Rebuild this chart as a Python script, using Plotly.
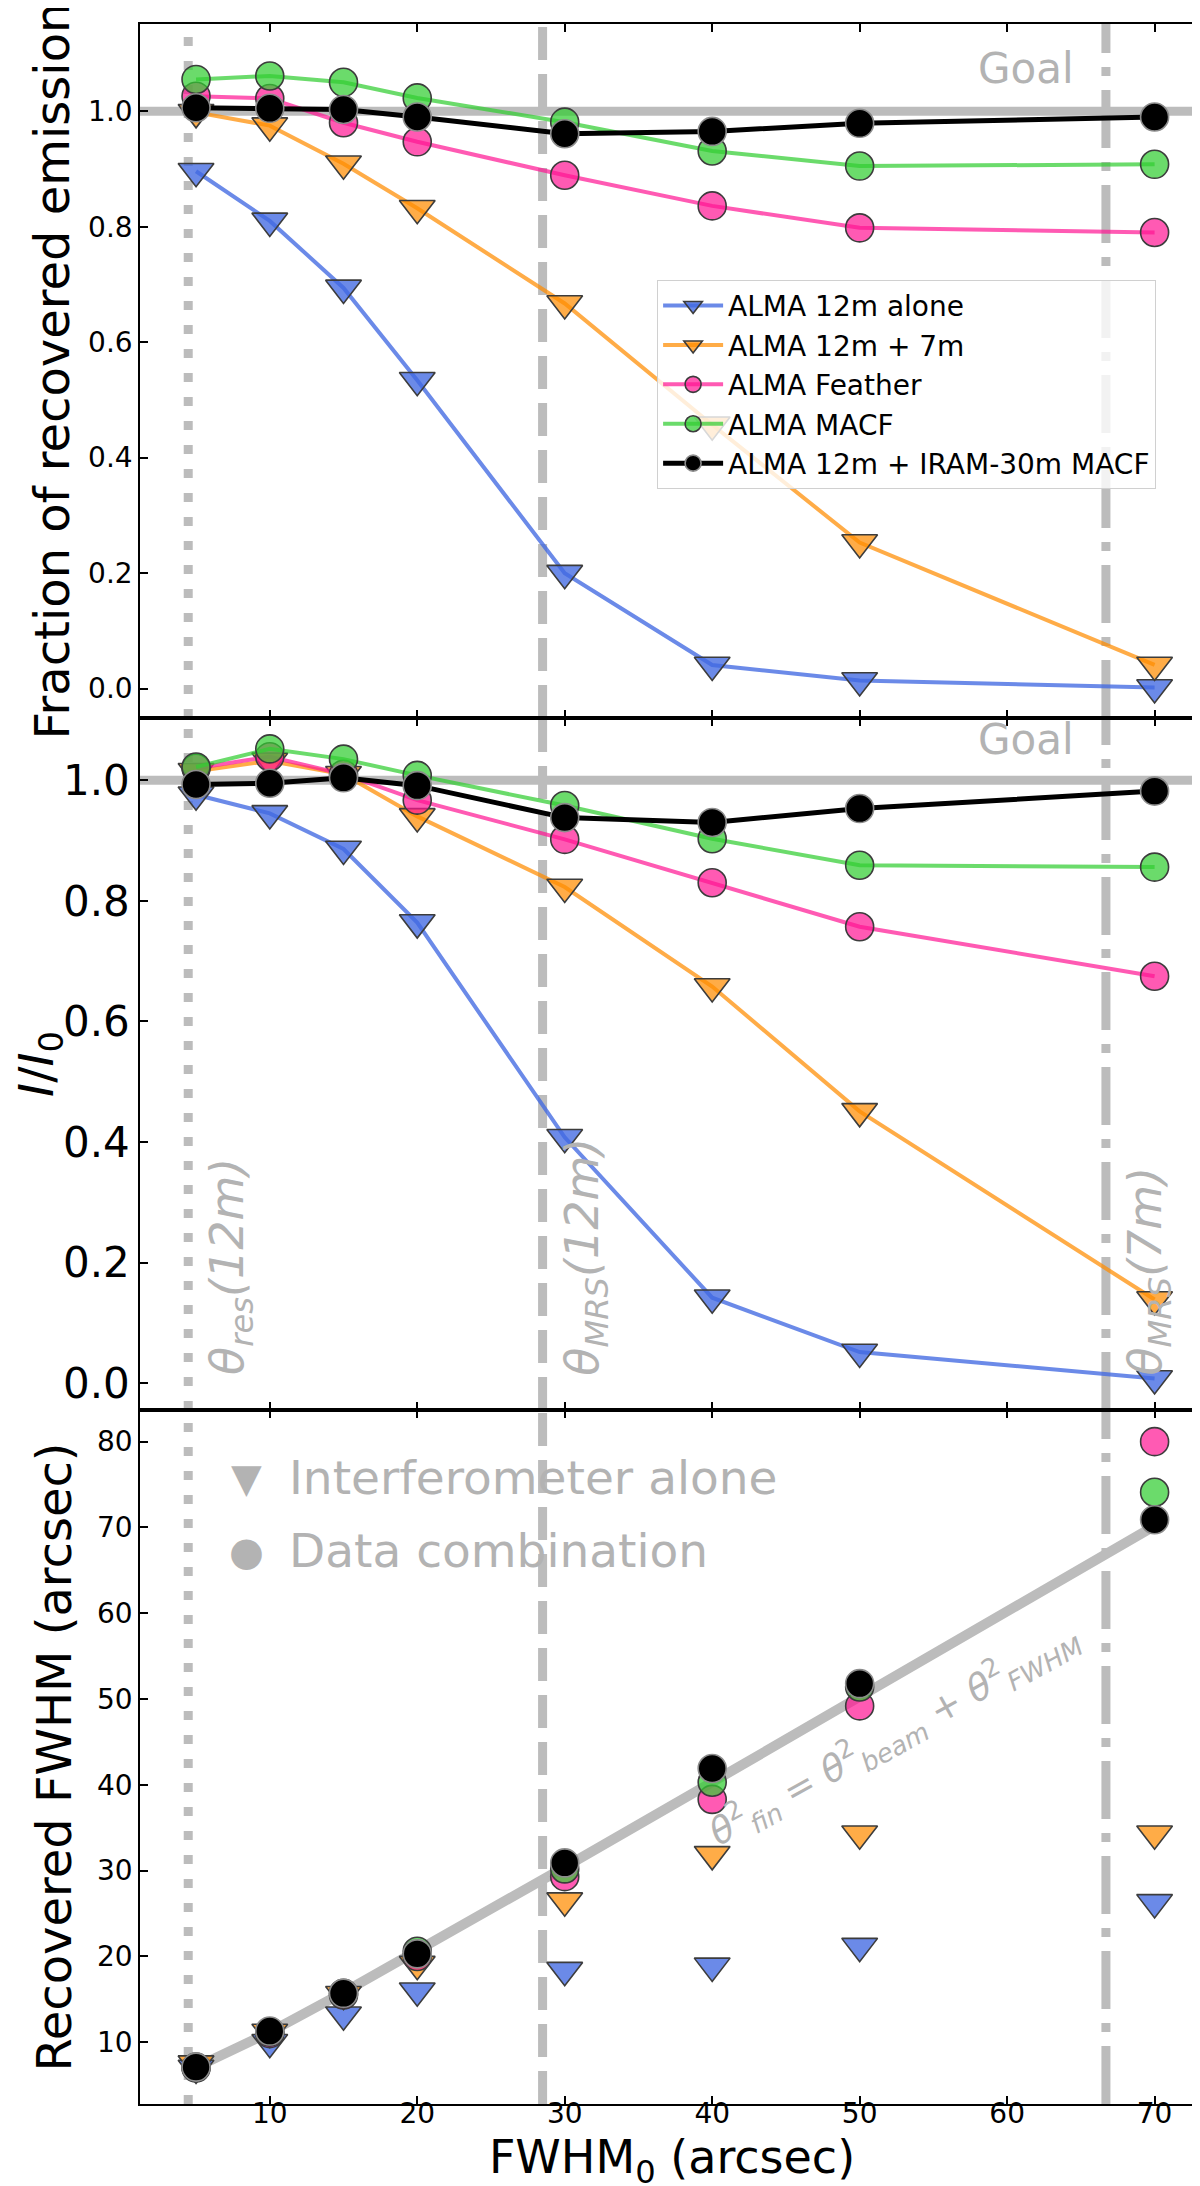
import plotly.graph_objects as go
from plotly.subplots import make_subplots


# Input source sizes (arcsec)
FWHM_IN = [5, 10, 15, 20, 30, 40, 50, 70]

# Fraction of recovered emission (top panel)
FRAC_12M = [0.896, 0.810, 0.694, 0.534, 0.200, 0.041, 0.014, 0.002]
FRAC_12M_7M = [0.998, 0.975, 0.909, 0.832, 0.667, 0.457, 0.253, 0.041]
FRAC_FEATHER = [1.026, 1.022, 0.980, 0.947, 0.889, 0.836, 0.798, 0.790]
FRAC_MACF = [1.055, 1.061, 1.050, 1.023, 0.981, 0.931, 0.905, 0.908]
FRAC_30M_MACF = [1.006, 1.005, 1.003, 0.990, 0.961, 0.965, 0.979, 0.990]

# Peak ratio I/I0 (middle panel)
PEAK_12M = [0.976, 0.945, 0.886, 0.764, 0.408, 0.142, 0.052, 0.008]
PEAK_12M_7M = [1.015, 1.032, 1.010, 0.940, 0.823, 0.658, 0.451, 0.139]
PEAK_FEATHER = [1.020, 1.039, 1.010, 0.967, 0.902, 0.830, 0.757, 0.675]
PEAK_MACF = [1.022, 1.052, 1.035, 1.008, 0.958, 0.903, 0.859, 0.856]
PEAK_30M_MACF = [0.993, 0.995, 1.004, 0.991, 0.938, 0.930, 0.953, 0.982]

# Recovered FWHM in arcsec (bottom panel)
FWHM_12M = [7.0, 10.0, 13.2, 16.0, 18.4, 18.9, 21.2, 26.3]
FWHM_12M_7M = [7.5, 11.2, 15.6, 19.1, 26.5, 31.9, 34.3, 34.3]
FWHM_FEATHER = [7.0, 11.0, 15.5, 20.0, 29.3, 38.3, 49.2, 80.0]
FWHM_MACF = [7.1, 11.2, 15.7, 20.6, 30.2, 40.3, 51.4, 74.1]
FWHM_30M_MACF = [7.1, 11.3, 15.7, 20.3, 30.9, 41.9, 51.8, 70.9]

# Expected size after convolution with the beam
FWHM_EXPECTED = [7.07, 11.18, 15.81, 20.62, 30.41, 40.31, 50.25, 70.18]

# Reference scales of the arrays (arcsec)
THETA_RES_12M = 4.47
THETA_MRS_12M = 28.5
THETA_MRS_7M = 66.7

NAMES = ["ALMA 12m alone", "ALMA 12m + 7m", "ALMA Feather", "ALMA MACF",
         "ALMA 12m + IRAM-30m MACF"]

FONT = "DejaVu Sans"
GREY = "#bcbcbc"
TEXT_GREY = "#b3b3b3"

STYLES = [
    dict(symbol="triangle-down", color="rgba(65,105,225,0.78)", edge="#3c3c3c", lw=4),
    dict(symbol="triangle-down", color="rgba(255,140,0,0.72)", edge="#3c3c3c", lw=4),
    dict(symbol="circle", color="rgba(255,20,147,0.70)", edge="#3c3c3c", lw=4),
    dict(symbol="circle", color="rgba(50,205,50,0.72)", edge="#3c3c3c", lw=4),
    dict(symbol="circle", color="black", edge="#8c8c8c", lw=5),
]


def _marker(style):
    size = 28 if style["symbol"] == "circle" else 31
    return dict(symbol=style["symbol"], size=size, color=style["color"],
                line=dict(color=style["edge"], width=1.6))


def _add_panel(fig, row, series, with_lines, legend):
    for name, values, style in zip(NAMES, series, STYLES):
        fig.add_trace(
            go.Scatter(x=FWHM_IN, y=values, name=name,
                       mode="lines+markers" if with_lines else "markers",
                       line=dict(color=style["color"], width=style["lw"]),
                       marker=_marker(style),
                       showlegend=legend),
            row=row, col=1)


def _add_reference_lines(fig):
    patterns = [(THETA_RES_12M, "9px,15px"),
                (THETA_MRS_12M, "33px,14px"),
                (THETA_MRS_7M, "58px,14px,9px,14px")]
    for n in ["", "2", "3"]:
        for xpos, dash in patterns:
            fig.add_shape(type="line", xref="x" + n, yref="y" + n + " domain",
                          x0=xpos, x1=xpos, y0=0, y1=1, layer="below", opacity=1,
                          line=dict(color=GREY, width=9, dash=dash))
    # goal = full recovery
    for n in ["", "2"]:
        fig.add_shape(type="line", xref="x" + n + " domain", yref="y" + n,
                      x0=0, x1=1, y0=1.0, y1=1.0, layer="below", opacity=1,
                      line=dict(color=GREY, width=9))
        fig.add_annotation(text="Goal", xref="x" + n, yref="y" + n,
                           x=61.3, y=1.074 if n == "" else 1.068,
                           showarrow=False,
                           font=dict(family=FONT, size=42, color=TEXT_GREY))


def _add_scale_labels(fig):
    labels = [(THETA_RES_12M, "<i>θ<sub>res</sub>(12m)</i>"),
              (THETA_MRS_12M, "<i>θ<sub>MRS</sub>(12m)</i>"),
              (THETA_MRS_7M, "<i>θ<sub>MRS</sub>(7m)</i>")]
    for xpos, text in labels:
        fig.add_annotation(text=text, xref="x2", yref="y2",
                           x=xpos + 0.7, y=0.01, xanchor="left", yanchor="bottom",
                           textangle=-90, showarrow=False,
                           font=dict(family=FONT, size=46, color=TEXT_GREY))


def _add_fwhm_texts(fig):
    items = [("▼", "Interferometer alone", 75.8),
             ("●", "Data combination", 67.3)]
    for glyph, text, ypos in items:
        fig.add_annotation(text=glyph, xref="x3", yref="y3", x=8.4, y=ypos,
                           showarrow=False,
                           font=dict(family=FONT, size=40, color=TEXT_GREY))
        fig.add_annotation(text=text, xref="x3", yref="y3", x=11.2, y=ypos,
                           xanchor="left", showarrow=False,
                           font=dict(family=FONT, size=47, color=TEXT_GREY))
    fig.add_annotation(
        text="<i>θ</i><sup>2</sup><sub><i>fin</i></sub> = "
             "<i>θ</i><sup>2</sup><sub><i>beam</i></sub> + "
             "<i>θ</i><sup>2</sup><sub><i>FWHM</i></sub>",
        xref="x3", yref="y3", x=52.3, y=45.9, textangle=-29, showarrow=False,
        font=dict(family=FONT, size=37, color=TEXT_GREY))


def _update_figure_layout(fig):
    fig.update_layout(
        width=1200, height=2186, template="simple_white",
        paper_bgcolor="white", plot_bgcolor="white",
        margin=dict(l=132, r=2, t=16, b=90),
        font=dict(family=FONT, size=28, color="black"),
        legend=dict(x=0.486, y=0.877, xanchor="left", yanchor="top",
                    bgcolor="rgba(255,255,255,0.8)", bordercolor="#d0d0d0",
                    borderwidth=1, font=dict(size=28), itemwidth=60),
    )
    axis_style = dict(showline=True, linecolor="black", linewidth=1.6,
                      mirror="allticks", ticks="inside", ticklen=8, tickwidth=1.5,
                      tickcolor="black", showgrid=False, zeroline=False,
                      tickfont=dict(family=FONT, size=28))
    domains = [[0.6663, 1.0], [0.3337, 0.6663], [0.0, 0.3337]]
    for i, dom in enumerate(domains, start=1):
        fig.update_xaxes(axis_style, range=[1.2, 73.35], tickvals=[10, 20, 30, 40, 50, 60, 70],
                         showticklabels=(i == 3), row=i, col=1)
        fig.update_yaxes(axis_style, domain=dom, row=i, col=1)

    title_font = dict(family=FONT, size=48, color="black")
    fig.update_yaxes(range=[-0.051, 1.151], tickvals=[0, 0.2, 0.4, 0.6, 0.8, 1.0],
                     tickformat=".1f", title=dict(text="Fraction of recovered emission",
                                                  font=title_font, standoff=3),
                     row=1, col=1)
    fig.update_yaxes(range=[-0.044, 1.103], tickvals=[0, 0.2, 0.4, 0.6, 0.8, 1.0],
                     tickformat=".1f", tickfont=dict(family=FONT, size=42),
                     title=dict(text="<i>I</i>/<i>I</i><sub>0</sub>",
                                font=title_font, standoff=0),
                     row=2, col=1)
    fig.update_yaxes(range=[2.8, 83.7], tickvals=[10, 20, 30, 40, 50, 60, 70, 80],
                     title=dict(text="Recovered FWHM (arcsec)", font=title_font,
                                standoff=10),
                     row=3, col=1)
    fig.update_xaxes(ticklabelstandoff=-16,
                     title=dict(text="FWHM<sub>0</sub> (arcsec)",
                                font=dict(family=FONT, size=46, color="black"),
                                standoff=0),
                     row=3, col=1)


def main():
    fig = make_subplots(rows=3, cols=1, shared_xaxes=True, vertical_spacing=0)

    _add_panel(fig, 1, [FRAC_12M, FRAC_12M_7M, FRAC_FEATHER, FRAC_MACF, FRAC_30M_MACF],
               True, True)
    _add_panel(fig, 2, [PEAK_12M, PEAK_12M_7M, PEAK_FEATHER, PEAK_MACF, PEAK_30M_MACF],
               True, False)

    # expected relation, below the recovered sizes
    fig.add_trace(go.Scatter(x=FWHM_IN, y=FWHM_EXPECTED, mode="lines",
                             line=dict(color=GREY, width=10), showlegend=False,
                             hoverinfo="skip"), row=3, col=1)
    _add_panel(fig, 3, [FWHM_12M, FWHM_12M_7M, FWHM_FEATHER, FWHM_MACF, FWHM_30M_MACF],
               False, False)

    _add_reference_lines(fig)
    _add_scale_labels(fig)
    _add_fwhm_texts(fig)
    _update_figure_layout(fig)

    fig.write_html("out.html")


if __name__ == "__main__":
    main()
